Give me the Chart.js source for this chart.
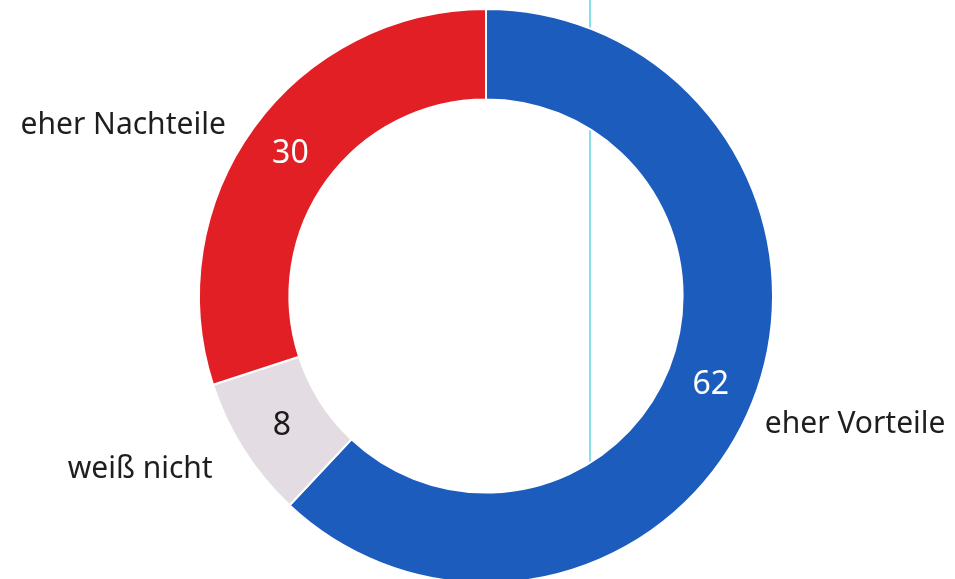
<!DOCTYPE html>
<html>
<head>
<meta charset="utf-8">
<script src="https://cdn.jsdelivr.net/npm/chart.js@4/dist/chart.umd.min.js"></script>
<style>
  html, body { margin: 0; padding: 0; background: #fff; overflow: hidden; }
  #wrap { position: relative; width: 955px; height: 584px; }
</style>
</head>
<body>
<div id="wrap"><canvas id="c"></canvas></div>
<script>
// data, clockwise from 12 o'clock
const categories = ['eher Vorteile', 'weiß nicht', 'eher Nachteile'];
const values = [62, 8, 30];
const colors = ['#1c5cbd', '#e3dde3', '#e31f26'];
const valueColors = ['#ffffff', '#1a1a1a', '#ffffff'];
// label offset from the outer middle of each arc
const labelOffsets = [[12, 23, 'left'], [-31, 20, 'right'], [-28, -2, 'right']];

const FONT = "'Noto Sans', 'Open Sans', sans-serif";

// thin cyan scan line behind the ring
const scanLine = {
  id: 'scanLine',
  beforeDatasetsDraw(chart) {
    const ctx = chart.ctx;
    const arc = chart.getDatasetMeta(0).data[0];
    const x = arc.x + 104;
    const y2 = arc.y + Math.sqrt(arc.innerRadius * arc.innerRadius - 104 * 104);
    ctx.save();
    ctx.strokeStyle = '#62d4e2';
    ctx.lineWidth = 1.5;
    ctx.beginPath();
    ctx.moveTo(x, 0);
    ctx.lineTo(x, y2);
    ctx.stroke();
    ctx.restore();
  }
};

const labels = {
  id: 'labels',
  afterDatasetsDraw(chart) {
    const ctx = chart.ctx;
    const meta = chart.getDatasetMeta(0);
    ctx.save();
    ctx.textBaseline = 'middle';
    meta.data.forEach((arc, i) => {
      // value inside the ring
      const p = arc.tooltipPosition();
      ctx.font = '32px ' + FONT;
      ctx.textAlign = 'center';
      ctx.fillStyle = valueColors[i];
      ctx.fillText(String(values[i]), p.x, p.y);
      // category outside
      const mid = (arc.startAngle + arc.endAngle) / 2;
      const ox = arc.x + Math.cos(mid) * arc.outerRadius;
      const oy = arc.y + Math.sin(mid) * arc.outerRadius;
      const off = labelOffsets[i];
      ctx.font = '30px ' + FONT;
      ctx.textAlign = off[2];
      ctx.fillStyle = '#1e1e1e';
      ctx.fillText(categories[i], ox + off[0], oy + off[1]);
    });
    ctx.restore();
  }
};

new Chart(document.getElementById('c'), {
  type: 'doughnut',
  data: {
    labels: categories,
    datasets: [{
      data: values,
      backgroundColor: colors,
      borderColor: '#ffffff',
      borderWidth: 2
    }]
  },
  options: {
    responsive: true,
    maintainAspectRatio: false,
    animation: false,
    cutout: '68.5%',
    layout: { padding: { top: 8, bottom: 0, left: 197, right: 180 } },
    plugins: { legend: { display: false }, tooltip: { enabled: false } }
  },
  plugins: [scanLine, labels]
});
</script>
</body>
</html>
